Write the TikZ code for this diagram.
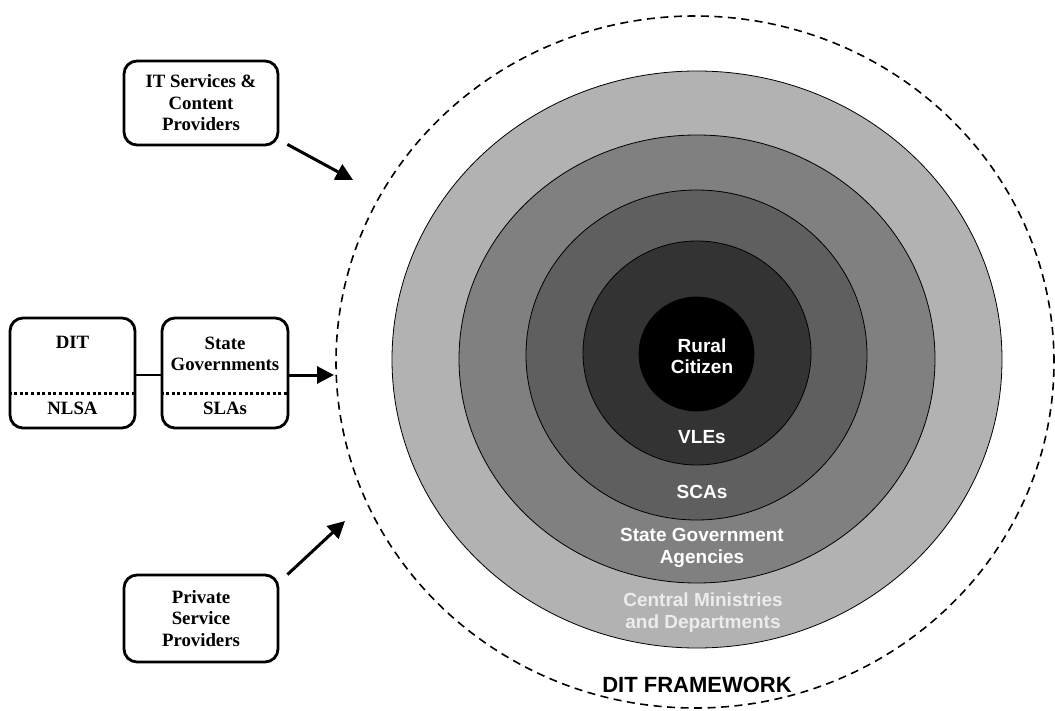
\documentclass[tikz,border=0pt]{standalone}
\usepackage{fontspec}
\setmainfont{Liberation Serif}
\newfontfamily\ringfont{Liberation Sans}
\usepackage{tikz}
\usetikzlibrary{positioning}
\usetikzlibrary{arrows.meta}
\definecolor{ringA}{RGB}{178,178,178}
\definecolor{ringB}{RGB}{128,128,128}
\definecolor{ringC}{RGB}{95,95,95}
\definecolor{ringD}{RGB}{51,51,51}
\definecolor{paletext}{RGB}{236,236,236}
\tikzset{
   box/.style = {%
    shape=rectangle,
    rounded corners=13pt,
    draw=black,
    line width=2.8pt,
    align=center,
    font=\bfseries\fontsize{18.8}{21.5}\selectfont},
   boxtext/.style = {%
    align=center,
    inner sep=0pt,
    font=\bfseries\fontsize{18.8}{21.5}\selectfont},
   divider/.style = {%
    line width=3pt,
    dash pattern=on 3pt off 2.6pt},
   link/.style = {%
    draw=black,
    line width=2.6pt},
   arrow/.style = {%
    draw=black,
    line width=3pt,
    -{Triangle[length=17pt,width=17pt]}},
   ring/.style = {%
    draw=black,
    line width=0.8pt},
   ringtext/.style = {%
    text=white,
    align=center,
    inner sep=0pt,
    font=\ringfont\bfseries\fontsize{19}{21.5}\selectfont},
   frame/.style = {%
    draw=black,
    line width=1.6pt,
    dash pattern=on 8pt off 5.5pt},
    }

\begin{document}
\begin{tikzpicture}[x=1pt, y=-1pt]
    \useasboundingbox (0,0) rectangle (1055,711);

    % framework rings
    \draw[frame] (695,362) ellipse [x radius=359pt, y radius=346pt];
    \filldraw[ring, fill=ringA] (697,359.5) ellipse [x radius=305pt, y radius=288.5pt];
    \filldraw[ring, fill=ringB] (697,359) ellipse [x radius=238pt, y radius=224pt];
    \filldraw[ring, fill=ringC] (696.5,355) ellipse [x radius=170.5pt, y radius=165pt];
    \filldraw[ring, fill=ringD] (697,353) ellipse [x radius=114pt, y radius=112pt];
    \filldraw[ring, fill=black] (696.5,354) ellipse [x radius=57.5pt, y radius=57pt];

    \node[ringtext] (citizen) at (702,356) {Rural\\Citizen};
    \node[ringtext] (vles) at (702,437) {VLEs};
    \node[ringtext] (scas) at (702,492) {SCAs};
    \node[ringtext] (agencies) at (702,548) {State Government\\Agencies};
    \node[ringtext, text=paletext] (ministries) at (703,612.5) {Central Ministries\\and Departments};
    \node[ringtext, text=black, font=\ringfont\bfseries\fontsize{22}{26}\selectfont] (framework) at (697,685) {DIT FRAMEWORK};

    % outside actors
    \node[box, minimum width=154pt, minimum height=84pt] (itserv) at (201,103) {IT Services \&\\Content\\Providers};
    \node[box, minimum width=154pt, minimum height=87pt] (private) at (201,618.5) {Private\\Service\\Providers};

    \node[box, minimum width=125pt, minimum height=110pt] (dit) at (72.5,373) {};
    \node[box, minimum width=126pt, minimum height=110pt] (state) at (225,373) {};
    \node[boxtext] (ditlabel) at (72.5,342) {DIT};
    \node[boxtext] (nlsa) at (72.5,408) {NLSA};
    \node[boxtext] (statelabel) at (225,354) {State\\Governments};
    \node[boxtext] (slas) at (225,408) {SLAs};
    \draw[divider] (dit.west |- 0,393) -- (dit.east |- 0,393);
    \draw[divider] (state.west |- 0,393) -- (state.east |- 0,393);

    \coordinate (tipA) at (353,180);
    \coordinate (tipB) at (334,375);
    \coordinate (tipC) at (345,521);

    \draw[link] (dit.east |- 0,375) -- (state.west |- 0,375);
    \draw[arrow] (state.east |- 0,375) -- (tipB);
    \draw[arrow] ([shift={(8,-2)}]itserv.south east) -- (tipA);
    \draw[arrow] ([shift={(8,1)}]private.north east) -- (tipC);
\end{tikzpicture}
\end{document}
